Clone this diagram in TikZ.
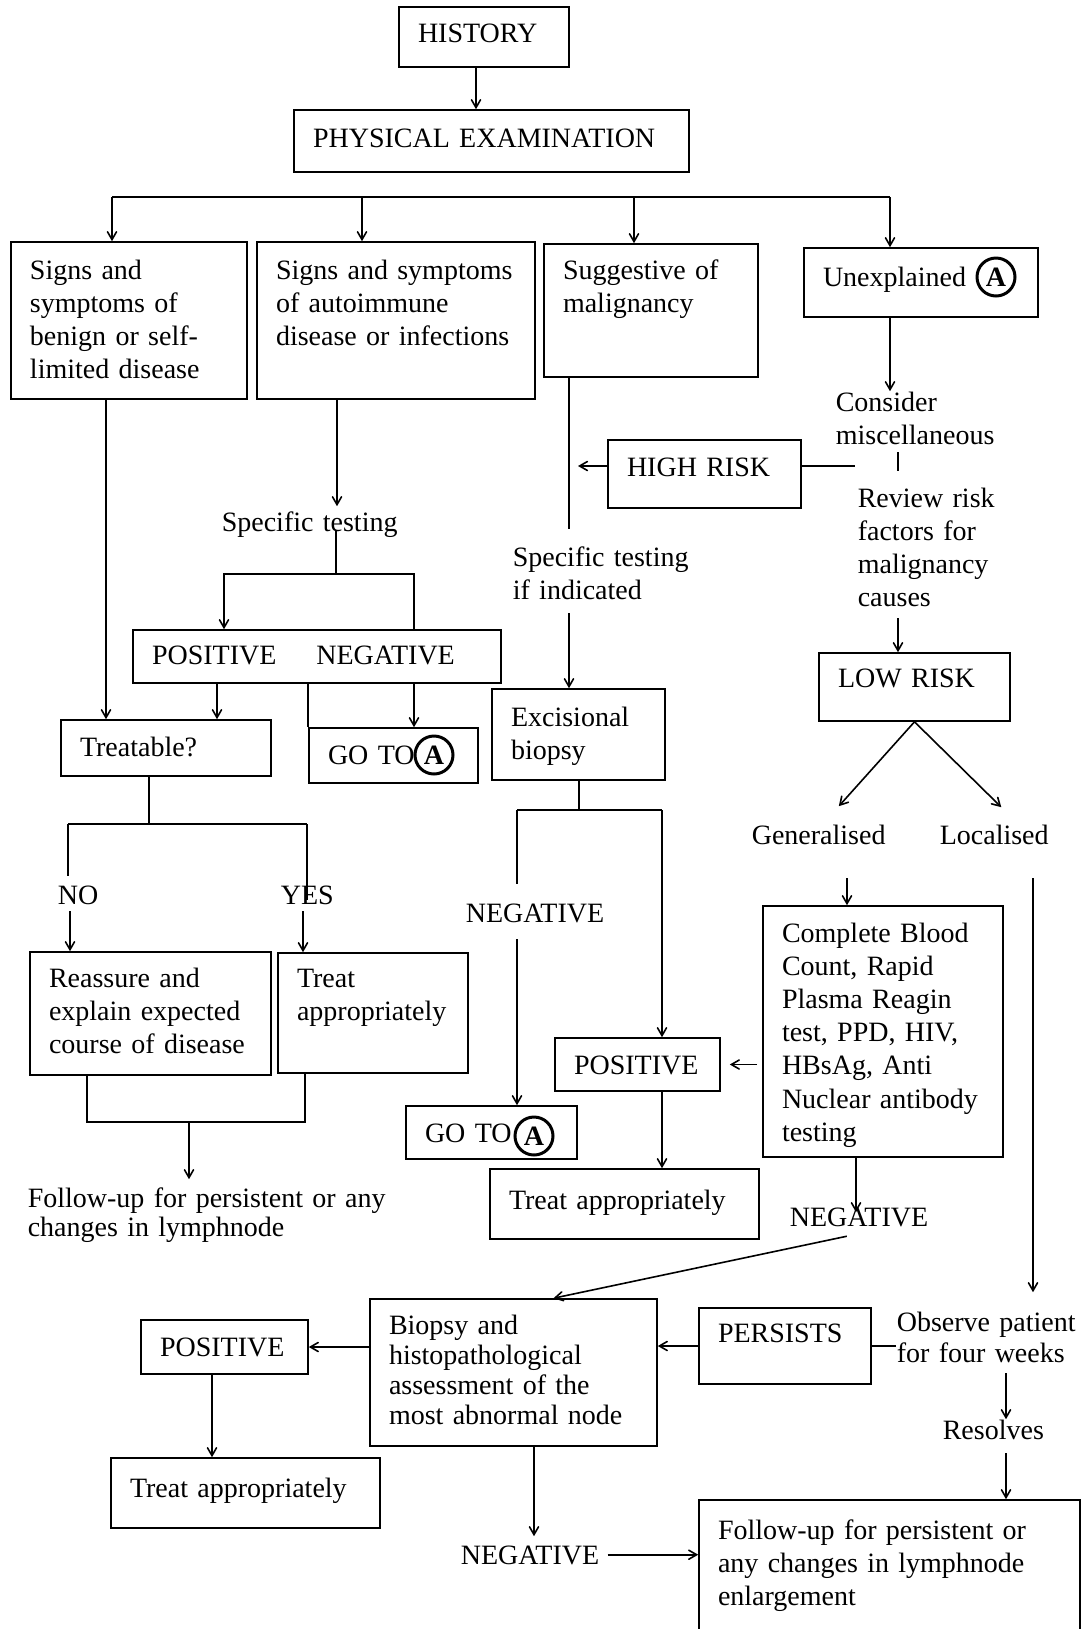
\documentclass[tikz,border=0pt]{standalone}
\usepackage{fontspec}
\setmainfont{Liberation Serif}
\usetikzlibrary{arrows}

\begin{document}
\begin{tikzpicture}[x=0.5pt,y=-0.5pt,font=\fontsize{14pt}{16.5pt}\selectfont,line width=0.8pt,>=angle 60]
      \tikzstyle{box}=[draw,align=left,inner xsep=9.5pt,inner ysep=0pt,text height=9.5pt]
      \tikzstyle{txt}=[align=left,inner sep=0pt,text height=9.5pt,anchor=base west]
      \tikzstyle{circ}=[circle,draw,line width=1.5pt,inner sep=0pt,minimum size=19pt,font=\fontsize{14pt}{16pt}\selectfont\bfseries]
      \useasboundingbox (0,0) rectangle (1086,1629);

      % boxes
      \node(hist)[box,text width=66pt,minimum height=30pt,text depth=4.5pt] at (484,37) {HISTORY};
      \node(phys)[box,text width=178.5pt,minimum height=31pt,text depth=3.5pt] at (491.5,141) {PHYSICAL EXAMINATION};
      \node(benign)[box,text width=99pt,minimum height=78.5pt,text depth=51pt] at (129,320.5)
          {Signs and\\symptoms of\\benign or self-\\limited disease};
      \node(autoimm)[box,text width=120pt,minimum height=78.5pt,text depth=51pt] at (396,320.5)
          {Signs and symptoms\\of autoimmune\\disease or infections};
      \node(malig)[box,text width=88pt,minimum height=66.5pt,text depth=41pt] at (651,310.5)
          {Suggestive of\\malignancy};
      \node(unexp)[box,text width=98pt,minimum height=34.5pt,text depth=6pt] at (921,282.5) {Unexplained};
      \node(highrisk)[box,text width=77.5pt,minimum height=34pt,text depth=7.5pt] at (704.5,474) {HIGH RISK};
      \node(posneg)[box,text width=165pt,minimum height=26.5pt,text depth=2pt] at (317,656.5)
          {POSITIVE\hspace{20pt}NEGATIVE};
      \node(treatq)[box,text width=86pt,minimum height=28pt,text depth=1.5pt] at (166,748) {Treatable?};
      \node(gotoA)[box,text width=65.5pt,minimum height=27.5pt,text depth=1pt] at (393.5,755.5) {GO TO};
      \node(excis)[box,text width=67.5pt,minimum height=45.5pt,text depth=18pt] at (578.5,734.5)
          {Excisional\\biopsy};
      \node(lowrisk)[box,text width=76.5pt,minimum height=34pt,text depth=9.5pt] at (914.5,687) {LOW RISK};
      \node(reass)[box,text width=101.5pt,minimum height=61.5pt,text depth=36pt] at (150.5,1013.5)
          {Reassure and\\explain expected\\course of disease};
      \node(treat1)[box,text width=76pt,minimum height=60pt,text depth=35.5pt] at (373,1013)
          {Treat\\appropriately};
      \node(cbc)[box,text width=101pt,minimum height=125.5pt,text depth=99pt,font=\fontsize{14pt}{16.6pt}\selectfont] at (883,1031.5)
          {Complete Blood\\Count, Rapid\\Plasma Reagin\\test, PPD, HIV,\\HBsAg, Anti\\Nuclear antibody\\testing};
      \node(pos1)[box,text width=63.5pt,minimum height=26.5pt,text depth=0pt] at (637.5,1064.5) {POSITIVE};
      \node(gotoB)[box,text width=66.5pt,minimum height=26.5pt,text depth=0pt] at (491.5,1132.5) {GO TO};
      \node(treat2)[box,text width=115.5pt,minimum height=35pt,text depth=4.5pt] at (624.5,1204) {Treat appropriately};
      \node(biopsy)[box,text width=124.5pt,minimum height=73.5pt,text depth=48pt,font=\fontsize{14pt}{15pt}\selectfont] at (513.5,1372.5)
          {Biopsy and\\histopathological\\assessment of the\\most abnormal node};
      \node(persist)[box,text width=67pt,minimum height=38pt,text depth=13.5pt] at (785,1346) {PERSISTS};
      \node(pos2)[box,text width=64.5pt,minimum height=27pt,text depth=0pt] at (224.5,1347) {POSITIVE};
      \node(treat3)[box,text width=115.5pt,minimum height=35pt,text depth=5.5pt] at (245.5,1493) {Treat appropriately};
      \node(follow)[box,text width=171.5pt,minimum height=75pt,text depth=45.5pt] at (889.5,1575)
          {Follow-up for persistent or\\any changes in lymphnode\\enlargement};

      % circled A
      \node(ua)[circ] at (996,277) {A};
      \node(ga)[circ] at (434,755) {A};
      \node(gb)[circ] at (534,1136) {A};

      % free text
      \node(spec1)[txt,text width=88pt] at (221,531) {Specific testing};
      \node(spec2)[txt,text width=88pt] at (512,566) {Specific testing\\if indicated};
      \node(consider)[txt,text width=90pt] at (835,411) {Consider\\miscellaneous};
      \node(review)[txt,text width=90pt] at (857,507) {Review risk\\factors for\\malignancy\\causes};
      \node(no)[txt,text width=20pt] at (57,904) {NO};
      \node(yes)[txt,text width=27pt] at (280,904) {YES};
      \node(negA)[txt,text width=71pt] at (465,922) {NEGATIVE};
      \node(gen)[txt,text width=67pt] at (751,844) {Generalised};
      \node(loc)[txt,text width=54.5pt] at (939,844) {Localised};
      \node(negB)[txt,text width=71pt] at (789,1226) {NEGATIVE};
      \node(observe)[txt,text width=100pt,font=\fontsize{14pt}{15.5pt}\selectfont] at (896,1331) {Observe patient\\for four weeks};
      \node(resolves)[txt,text width=51pt] at (942,1439) {Resolves};
      \node(negC)[txt,text width=71pt] at (460,1564) {NEGATIVE};
      \node(followL)[txt,text width=210pt,font=\fontsize{14pt}{14.5pt}\selectfont] at (27,1207)
          {Follow-up for persistent or any\\changes in lymphnode};

      % columns and joints
      \coordinate (h1) at (476,0);
      \coordinate (busL) at (112,197);
      \coordinate (bus2) at (362,197);
      \coordinate (bus3) at (634,197);
      \coordinate (busR) at (890,197);
      \coordinate (c1) at (106,0);
      \coordinate (c2) at (337,0);
      \coordinate (sp) at (336,574);
      \coordinate (cPL) at (224,0);
      \coordinate (cPR) at (414,0);
      \coordinate (cT) at (217,0);
      \coordinate (tq) at (149,824);
      \coordinate (cNo) at (68,0);
      \coordinate (cYes) at (307,0);
      \coordinate (aNo) at (70,0);
      \coordinate (aYes) at (303,0);
      \coordinate (fj) at (189,1122);
      \coordinate (cR) at (87,0);
      \coordinate (cTr) at (305,0);
      \coordinate (cM) at (569,0);
      \coordinate (hrend) at (855,466);
      \coordinate (cTick) at (898,0);
      \coordinate (ex) at (579,810);
      \coordinate (cNL) at (517,0);
      \coordinate (cNR) at (662,0);
      \coordinate (cG) at (847,0);
      \coordinate (cL) at (1033,0);
      \coordinate (cN) at (856,0);
      \coordinate (cP2) at (212,0);
      \coordinate (cBi) at (534,0);
      \coordinate (cO) at (1006,0);

      % connectors
      \draw[->] (h1 |- hist.south) -- (h1 |- phys.north);
      \draw (busL) -- (busR);
      \draw[->] (busL) -- (busL |- benign.north);
      \draw[->] (bus2) -- (bus2 |- autoimm.north);
      \draw[->] (bus3) -- (bus3 |- malig.north);
      \draw[->] (busR) -- (busR |- unexp.north);

      \draw[->] (c1 |- benign.south) -- (c1 |- treatq.north);
      \draw[->,shorten >=2.5pt] (c2 |- autoimm.south) -- (c2 |- spec1.north);
      \draw (sp |- spec1.base) -- (sp);
      \draw[->] (sp) -| (cPL |- posneg.north);
      \draw (sp) -| (cPR |- posneg.north);
      \draw[->] (cT |- posneg.south) -- (cT |- treatq.north);
      \draw (gotoA.north west |- posneg.south) -- (gotoA.north west);
      \draw[->] (cPR |- posneg.south) -- (cPR |- gotoA.north);

      \draw (tq |- treatq.south) -- (tq);
      \draw (cNo |- tq) -- (cYes |- tq);
      \draw[shorten >=4pt] (cNo |- tq) -- (cNo |- no.north);
      \draw[shorten >=2pt] (cYes |- tq) -- (cYes |- yes.base);
      \draw[->,shorten <=3pt] (aNo |- no.south) -- (aNo |- reass.north);
      \draw[->,shorten <=3pt] (aYes |- yes.south) -- (aYes |- treat1.north);
      \draw (cR |- reass.south) |- (cTr |- fj) -- (cTr |- treat1.south);
      \draw[->,shorten >=4pt] (fj) -- (fj |- followL.north);

      \draw[shorten >=8.5pt] (cM |- malig.south) -- (cM |- spec2.north);
      \draw[->,shorten <=6.5pt] (cM |- spec2.south) -- (cM |- excis.north);
      \draw[->,shorten >=4.5pt] (highrisk.west |- hrend) -- (cM |- hrend);
      \draw (highrisk.east |- hrend) -- (hrend);
      \draw[->] (busR |- unexp.south) -- (busR |- consider.north);
      \draw[shorten <=3.5pt,shorten >=8pt] (cTick |- consider.south) -- (cTick |- review.north);
      \draw[->,shorten <=5.5pt] (cTick |- review.south) -- (cTick |- lowrisk.north);
      \draw[->] (lowrisk.south) -- ([xshift=10pt,yshift=9pt]gen.north);
      \draw[->] (lowrisk.south) -- ([xshift=3.5pt,yshift=8.5pt]loc.north);
      \draw[->,shorten <=16.5pt] (cG |- gen.south) -- (cG |- cbc.north);
      \draw[->,shorten <=16.5pt,shorten >=9.5pt] (cL |- loc.south) -- (cL |- observe.north);

      \draw (ex |- excis.south) -- (ex);
      \draw (cNL |- ex) -- (cNR |- ex);
      \draw[shorten >=9pt] (cNL |- ex) -- (cNL |- negA.north);
      \draw[->,shorten <=8pt] (cNL |- negA.south) -- (cNL |- gotoB.north);
      \draw[->] (cNR |- ex) -- (cNR |- pos1.north);
      \draw[->,shorten <=2.5pt,shorten >=4.5pt] (cbc.west |- pos1.east) -- (pos1.east);
      \draw[->] (cNR |- pos1.south) -- (cNR |- treat2.north);
      \draw[->,shorten >=-3pt] (cN |- cbc.south) -- (cN |- negB.north);
      \draw[->] ([xshift=-7pt,yshift=-4.5pt]negB.south) -- ([xshift=20pt]biopsy.north);

      \draw (persist.east -| observe.west) -- (persist.east);
      \draw[->] (persist.west) -- (persist.west -| biopsy.east);
      \draw[->] (biopsy.west |- pos2.east) -- (pos2.east);
      \draw[->] (cP2 |- pos2.south) -- (cP2 |- treat3.north);
      \draw[->,shorten >=4pt] (cBi |- biopsy.south) -- (cBi |- negC.north);
      \draw[->,shorten <=2pt] (negC.east) -- (negC.east -| follow.west);
      \draw[->,shorten <=5pt] (cO |- observe.south) -- (cO |- resolves.north);
      \draw[->,shorten <=6.5pt] (cO |- resolves.south) -- (cO |- follow.north);
\end{tikzpicture}
\end{document}
